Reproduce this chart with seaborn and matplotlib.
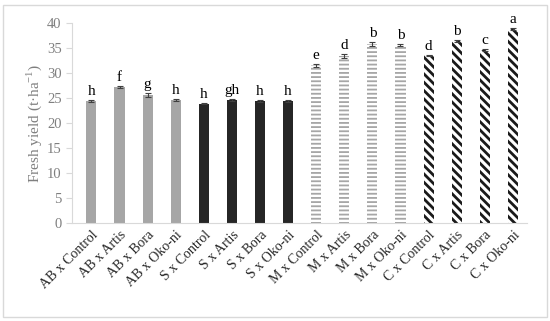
import matplotlib
matplotlib.use("Agg")
import matplotlib.pyplot as plt
import seaborn as sns
import pandas as pd
from matplotlib.patches import Rectangle

categories = ["AB x Control", "AB x Artis", "AB x Bora", "AB x Oko-ni",
              "S x Control", "S x Artis", "S x Bora", "S x Oko-ni",
              "M x Control", "M x Artis", "M x Bora", "M x Oko-ni",
              "C x Control", "C x Artis", "C x Bora", "C x Oko-ni"]
groups = ["AB"] * 4 + ["S"] * 4 + ["M"] * 4 + ["C"] * 4
yields = [24.5, 27.2, 25.6, 24.6,
          23.9, 24.6, 24.4, 24.4,
          31.6, 33.5, 35.8, 35.6,
          33.6, 36.5, 34.6, 38.8]
errors = [0.2, 0.15, 0.35, 0.2,
          0.15, 0.25, 0.15, 0.2,
          0.3, 0.4, 0.45, 0.25,
          0.1, 0.2, 0.15, 0.2]
letters = ["h", "f", "g", "h", "h", "gh", "h", "h",
           "e", "d", "b", "b", "d", "b", "c", "a"]

df = pd.DataFrame({"cat": categories, "group": groups, "y": yields})

sns.set_style("white")
plt.rcParams["font.family"] = ["Liberation Serif", "DejaVu Serif"]
plt.rcParams["mathtext.fontset"] = "custom"
plt.rcParams["mathtext.rm"] = "Liberation Serif"
plt.rcParams["hatch.linewidth"] = 1.6

fig = plt.figure(figsize=(5.5, 3.21), dpi=100)
ax = fig.add_axes([0.131, 0.3053, 0.827, 0.623])

palette = {"AB": "#a6a6a6", "S": "#262626", "M": "white", "C": "white"}
sns.barplot(data=df, x="cat", y="y", hue="group", palette=palette,
            dodge=False, width=0.36, legend=False, ax=ax, order=categories)

for p in ax.patches:
    cx = p.get_x() + p.get_width() / 2
    idx = int(round(cx))
    if idx < 0 or idx >= len(categories):
        continue
    g = groups[idx]
    if g == "M":
        p.set_facecolor("white")
        p.set_edgecolor("#a6a6a6")
        p.set_hatch("----")
        p.set_linewidth(0)
        if hasattr(p, "set_hatch_linewidth"):
            p.set_hatch_linewidth(1.3)
    elif g == "C":
        p.set_facecolor("white")
        p.set_edgecolor("#1a1a1a")
        p.set_hatch("\\\\\\\\")
        p.set_linewidth(0)
        if hasattr(p, "set_hatch_linewidth"):
            p.set_hatch_linewidth(2.0)
    else:
        p.set_edgecolor(p.get_facecolor())
        p.set_linewidth(0)

xs = list(range(len(categories)))
ax.errorbar(xs, yields, yerr=errors, fmt="none", ecolor="#404040",
            elinewidth=0.8, capsize=2.5, capthick=0.8, zorder=5)

for x, v, e, t in zip(xs, yields, errors, letters):
    ax.text(x, v + e + 1.0, t, ha="center", va="baseline",
            fontsize=11, color="black")

ax.set_ylim(0, 40)
ax.set_xlim(-0.69, 15.5)
ax.set_yticks(range(0, 41, 5))
ax.set_xlabel("")
ax.set_ylabel(r"Fresh yield (t·ha$^{-1}$)", color="#7f7f7f", fontsize=11, labelpad=2)
ax.tick_params(axis="y", labelsize=10.5, labelcolor="#7f7f7f", color="#d9d9d9",
               length=4, width=0.8, left=True, direction="out")
ax.tick_params(axis="x", labelsize=10, labelcolor="#262626", length=0, pad=4)
plt.setp(ax.get_xticklabels(), rotation=45, ha="right", rotation_mode="anchor")
for s in ["top", "right"]:
    ax.spines[s].set_visible(False)
for s in ["left", "bottom"]:
    ax.spines[s].set_color("#d9d9d9")
    ax.spines[s].set_linewidth(0.8)

fig.patches.append(Rectangle((0.006, 0.012), 0.988, 0.973, transform=fig.transFigure,
                             fill=False, edgecolor="#d9d9d9", linewidth=1.0))

fig.savefig("out.png", dpi=100)
